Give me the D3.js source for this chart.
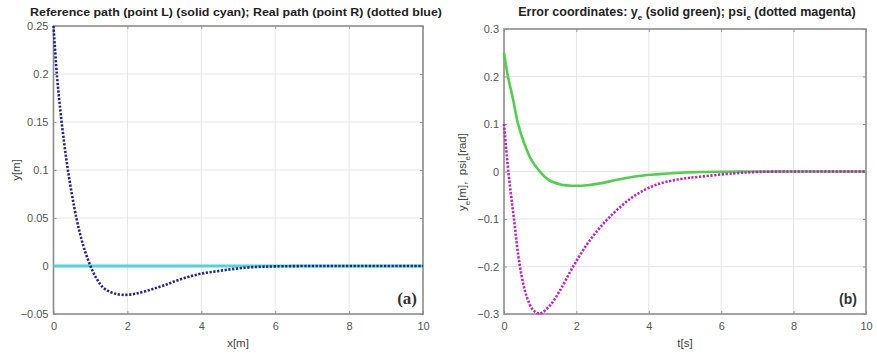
<!DOCTYPE html>
<html>
<head>
<meta charset="utf-8">
<script src="https://cdn.jsdelivr.net/npm/d3@7"></script>
<style>
body { margin: 0; background: #fff; }
svg { display: block; font-family: "Liberation Sans", Arial, sans-serif; }
.tick text { fill: #555; font-size: 11px; }
.title { font-weight: bold; font-size: 11.5px; fill: #222; }
.lab { font-size: 11.5px; fill: #444; }
</style>
</head>
<body>
<script>
// left panel: reference path (cyan) and real path (dotted blue)
var refX = [0, 10],
	refY = [0, 0];
var pathX = [0, 0.09, 0.22, 0.39, 0.62, 0.8, 1.0, 1.18, 1.36, 1.6, 1.85, 2.2, 2.6, 3.0, 3.5, 4.0, 4.5, 5.0, 5.5, 6, 7, 8, 9, 10],
	pathY = [0.25, 0.2, 0.15, 0.1, 0.05, 0.022, 0, -0.014, -0.023, -0.028, -0.030, -0.029, -0.025, -0.020, -0.013, -0.008, -0.005, -0.0025, -0.001, -0.0004, 0, 0, 0, 0];

// right panel: error coordinates
var tY = [0, 0.11, 0.25, 0.39, 0.57, 0.76, 0.99, 1.22, 1.59, 1.92, 2.3, 2.65, 3.1, 3.57, 4.2, 4.86, 5.5, 6.5, 8, 10],
	ye = [0.25, 0.2, 0.152, 0.1, 0.057, 0.024, 0, -0.017, -0.028, -0.030, -0.029, -0.025, -0.018, -0.011, -0.006, -0.0025, -0.001, 0, 0, 0];
var tPsi = [0, 0.12, 0.28, 0.44, 0.63, 0.81, 0.99, 1.27, 1.55, 1.91, 2.38, 2.93, 3.57, 4.2, 4.86, 5.41, 6.33, 7, 8, 9, 10],
	psie = [0.1, 0, -0.103, -0.2, -0.264, -0.292, -0.299, -0.282, -0.25, -0.2, -0.144, -0.095, -0.053, -0.028, -0.016, -0.011, -0.004, -0.001, 0, 0, 0];

var xTicks = [0, 2, 4, 6, 8, 10],
	leftYTicks = [-0.05, 0, 0.05, 0.1, 0.15, 0.2, 0.25],
	rightYTicks = [-0.3, -0.2, -0.1, 0, 0.1, 0.2, 0.3];

var width = 877, height = 353;
var svg = d3.select("body").append("svg")
	.attr("width", width)
	.attr("height", height);

function panel(box, yDomain, yTicks) {
	var x = d3.scaleLinear().domain([0, 10]).range([box.left, box.right]);
	var y = d3.scaleLinear().domain(yDomain).range([box.bottom, box.top]);
	var g = svg.append("g");

	// grid
	g.selectAll(".gx").data(xTicks.slice(1, -1)).enter().append("line")
		.attr("x1", function (d) { return x(d); })
		.attr("x2", function (d) { return x(d); })
		.attr("y1", box.top).attr("y2", box.bottom)
		.style("stroke", "#e6e6e6");
	g.selectAll(".gy").data(yTicks.slice(1, -1)).enter().append("line")
		.attr("y1", function (d) { return y(d); })
		.attr("y2", function (d) { return y(d); })
		.attr("x1", box.left).attr("x2", box.right)
		.style("stroke", "#e6e6e6");

	// axes
	var fmt = function (d) { return d3.format("")(+d.toFixed(2)); };
	g.append("g").attr("transform", "translate(0," + box.bottom + ")")
		.call(d3.axisBottom(x).tickValues(xTicks).tickSize(-3).tickPadding(8).tickFormat(d3.format("d")));
	g.append("g").attr("transform", "translate(" + box.left + ",0)")
		.call(d3.axisLeft(y).tickValues(yTicks).tickSize(-3).tickPadding(5).tickFormat(fmt));
	g.append("g").attr("transform", "translate(0," + box.top + ")")
		.call(d3.axisTop(x).tickValues(xTicks).tickSize(-3).tickFormat(""));
	g.append("g").attr("transform", "translate(" + box.right + ",0)")
		.call(d3.axisRight(y).tickValues(yTicks).tickSize(-3).tickFormat(""));
	g.selectAll(".domain").remove();
	g.selectAll(".tick line").style("stroke", "#999");
	g.append("rect")
		.attr("x", box.left).attr("y", box.top)
		.attr("width", box.right - box.left).attr("height", box.bottom - box.top)
		.style("fill", "none").style("stroke", "#8c8c8c").style("stroke-width", 1.6);

	return {x: x, y: y, g: g};
}

function drawLine(p, xs, ys, color, w, dash) {
	var pts = xs.map(function (d, i) { return [d, ys[i]]; });
	var line = d3.line()
		.x(function (d) { return p.x(d[0]); })
		.y(function (d) { return p.y(d[1]); })
		.curve(d3.curveCatmullRom.alpha(0.5));
	var path = p.g.append("path")
		.datum(pts)
		.attr("d", line)
		.style("fill", "none")
		.style("stroke", color)
		.style("stroke-width", w);
	if (dash) path.style("stroke-dasharray", dash).style("stroke-linecap", "butt");
}

/******************** LEFT ********************/
var pa = panel({left: 53.5, right: 423, top: 26, bottom: 314}, [-0.05, 0.25], leftYTicks);
drawLine(pa, refX, refY, "#4fd3dc", 3);
drawLine(pa, pathX, pathY, "#23238f", 2.6, "2.2,1.6");

svg.append("text").attr("class", "title")
	.attr("x", 236).attr("y", 16).attr("text-anchor", "middle")
	.attr("textLength", 412).attr("lengthAdjust", "spacingAndGlyphs")
	.text("Reference path (point L) (solid cyan); Real path (point R) (dotted blue)");
svg.append("text").attr("class", "lab")
	.attr("x", 238).attr("y", 347).attr("text-anchor", "middle")
	.text("x[m]");
svg.append("text").attr("class", "lab")
	.attr("transform", "translate(20,170) rotate(-90)").attr("text-anchor", "middle")
	.text("y[m]");
svg.append("text")
	.attr("x", 417).attr("y", 304).attr("text-anchor", "end")
	.style("font-family", "'Liberation Serif', 'DejaVu Serif', serif")
	.style("font-weight", "bold").style("font-size", "17px").style("fill", "#333")
	.text("(a)");

/******************** RIGHT ********************/
var pb = panel({left: 504, right: 866, top: 29, bottom: 314}, [-0.3, 0.3], rightYTicks);
drawLine(pb, tY, ye, "#4fcf4a", 2.6);
drawLine(pb, tPsi, psie, "#c21fc4", 2.6, "2.2,1.6");

var t2 = svg.append("text").attr("class", "title")
	.style("font-size", "12.5px")
	.attr("x", 687).attr("y", 16).attr("text-anchor", "middle");
t2.append("tspan").text("Error coordinates: y");
t2.append("tspan").attr("dy", 4).style("font-size", "8px").text("e");
t2.append("tspan").attr("dy", -4).text("\u00a0(solid green); psi");
t2.append("tspan").attr("dy", 4).style("font-size", "8px").text("e");
t2.append("tspan").attr("dy", -4).text("\u00a0(dotted magenta)");

svg.append("text").attr("class", "lab")
	.attr("x", 685).attr("y", 347).attr("text-anchor", "middle")
	.text("t[s]");
var yl = svg.append("text").attr("class", "lab")
	.attr("transform", "translate(466,172) rotate(-90)").attr("text-anchor", "middle");
yl.append("tspan").text("y");
yl.append("tspan").attr("dy", 4).style("font-size", "8px").text("e");
yl.append("tspan").attr("dy", -4).text("[m],\u00a0\u00a0psi");
yl.append("tspan").attr("dy", 4).style("font-size", "8px").text("e");
yl.append("tspan").attr("dy", -4).text("[rad]");

svg.append("text")
	.attr("x", 857).attr("y", 304).attr("text-anchor", "end")
	.style("font-weight", "bold").style("font-size", "14px").style("fill", "#333")
	.text("(b)");
</script>
</body>
</html>
